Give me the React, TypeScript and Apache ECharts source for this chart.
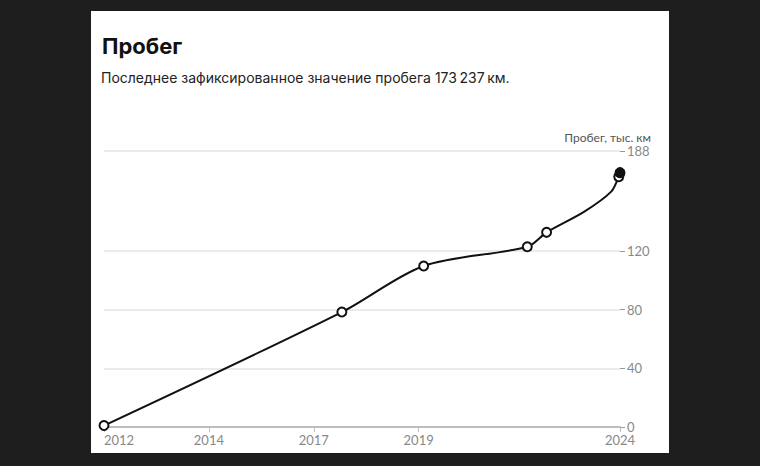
import React, { useEffect, useRef } from "react";
import * as echarts from "echarts";

// decimal years and mileage (thousand km); marker: "open" | "none" | "filled"
const years = [2012.0, 2017.67, 2019.62, 2022.09, 2022.55, 2023.45, 2024.09, 2024.27, 2024.3];
const mileage = [1, 78.3, 109.7, 122.8, 132.6, 146.7, 160.3, 170.5, 173.237];
const markers = ["open", "open", "open", "open", "open", "none", "none", "open", "filled"];
const xMin = 2012;
const xMax = 2024.3;
const xTicks = [2012, 2014.5, 2017, 2019.5, 2024.3];
const yTicks = [0, 40, 80, 120, 188];
const title = "Пробег";
const subtitle = "Последнее зафиксированное значение пробега 173\u2009237\u2009км.";
const yName = "Пробег, тыс. км";

export default function App() {
  const ref = useRef<HTMLDivElement>(null);
  useEffect(() => {
    const chart = echarts.init(ref.current!, null, { renderer: "svg" });
    const data = years.map((y, i) => {
      const m = markers[i];
      if (m === "none") return { value: [y, mileage[i]], symbol: "none" };
      if (m === "filled")
        return { value: [y, mileage[i]], itemStyle: { color: "#111", borderColor: "#111" } };
      return { value: [y, mileage[i]] };
    });
    chart.setOption({
      animation: false,
      backgroundColor: "#1e1e1e",
      textStyle: { fontFamily: "Lato" },
      graphic: [
        { type: "rect", shape: { x: 91, y: 11, width: 578, height: 442 }, style: { fill: "#ffffff" }, z: -10 },
        { type: "text", x: 102, y: 46, style: { text: title, font: "bold 22px Inter", fill: "#111", textVerticalAlign: "middle" } },
        { type: "text", x: 101, y: 77, style: { text: subtitle, font: "14px Inter", fill: "#222", textVerticalAlign: "middle" } },
        { type: "text", x: 651, y: 137, style: { text: yName, font: "12px Lato", fill: "#555", textAlign: "right", textVerticalAlign: "middle" } },
      ],
      grid: { left: 104, right: 140, top: 151, bottom: 39 },
      xAxis: {
        type: "value",
        min: xMin,
        max: xMax,
        splitLine: { show: false },
        axisLine: { show: true, lineStyle: { color: "#bdbdbd", width: 2 } },
        axisTick: { show: true, customValues: xTicks, length: 5, lineStyle: { color: "#bdbdbd" } },
        axisLabel: {
          customValues: xTicks,
          formatter: (v: number) => String(Math.floor(v)),
          color: "#888",
          fontSize: 13,
          fontFamily: "Lato",
          margin: 6,
          alignMinLabel: "left",
        },
      },
      yAxis: {
        type: "value",
        position: "right",
        min: 0,
        max: 188,
        axisLine: { show: false },
        axisTick: { show: true, customValues: yTicks, length: 5, lineStyle: { color: "#999" } },
        axisLabel: { customValues: yTicks, color: "#888", fontSize: 13, fontFamily: "Lato", margin: 7 },
        splitLine: { show: true, lineStyle: { color: "#e4e4e4", width: 1.5 } },
      },
      series: [
        {
          type: "line",
          data,
          smooth: 0.3,
          symbol: "circle",
          symbolSize: 9,
          showAllSymbol: true,
          lineStyle: { color: "#111", width: 2 },
          itemStyle: { color: "#fff", borderColor: "#111", borderWidth: 2 },
          z: 3,
        },
      ],
    });
    return () => chart.dispose();
  }, []);
  return (
    <div style={{ position: "fixed", left: 0, top: 0, width: 760, height: 466 }}>
      <div ref={ref} style={{ width: 760, height: 466 }} />
    </div>
  );
}
